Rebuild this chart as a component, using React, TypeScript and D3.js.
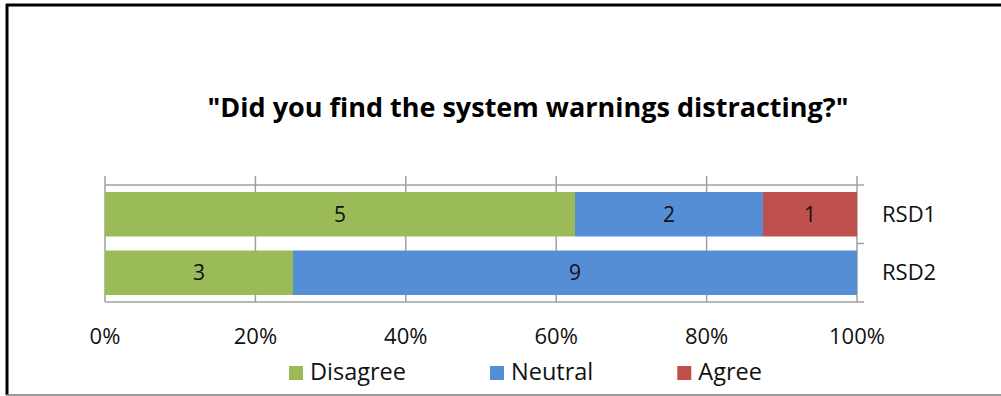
import React, { useEffect, useRef } from "react";
import * as d3 from "d3";

const categories = ["RSD1", "RSD2"];
const seriesNames = ["Disagree", "Neutral", "Agree"];
const disagree = [5, 3];
const neutral = [2, 9];
const agree = [1, 0];
const seriesColors = ["#9BBB59", "#558ED5", "#C0504D"];
const tickValues = [0, 0.2, 0.4, 0.6, 0.8, 1.0];
const title = '"Did you find the system warnings distracting?"';

const W = 1001;
const H = 396;
const FONT = "'Open Sans', sans-serif";

export default function App() {
  const ref = useRef<SVGSVGElement | null>(null);

  useEffect(() => {
    const svg = d3.select(ref.current);
    svg.selectAll("*").remove();

    // frame
    svg.append("rect").attr("x", 0).attr("y", 0).attr("width", W).attr("height", H).attr("fill", "#fff");
    svg.append("line").attr("x1", 7).attr("x2", 7).attr("y1", 4).attr("y2", 395).attr("stroke", "#000").attr("stroke-width", 3);
    svg.append("line").attr("x1", 6).attr("x2", W).attr("y1", 5).attr("y2", 5).attr("stroke", "#000").attr("stroke-width", 3);
    svg.append("line").attr("x1", 6).attr("x2", W).attr("y1", 395).attr("y2", 395).attr("stroke", "#777").attr("stroke-width", 1.5);

    // title
    svg.append("text")
      .attr("x", 528).attr("y", 117)
      .attr("text-anchor", "middle")
      .attr("font-family", FONT).attr("font-weight", "bold").attr("font-size", 27)
      .attr("fill", "#000")
      .text(title);

    const x = d3.scaleLinear().domain([0, 1]).range([105, 857]);
    const y = d3.scaleBand().domain(categories).range([185, 302]).paddingInner(0.24).paddingOuter(0.12);
    const yOuter = d3.scaleBand().domain(categories).range([185, 302]);

    const rows = categories.map((c, i) => ({ cat: c, Disagree: disagree[i], Neutral: neutral[i], Agree: agree[i] }));
    const stack = d3.stack<any>().keys(seriesNames).offset(d3.stackOffsetExpand);
    const stacked = stack(rows);

    const grid = "#A0A0A0";
    // vertical gridlines
    tickValues.forEach((t) => {
      svg.append("line")
        .attr("x1", x(t)).attr("x2", x(t))
        .attr("y1", 176).attr("y2", 302)
        .attr("stroke", grid).attr("stroke-width", 1.5);
    });
    // horizontal lines top/bottom
    [185, 302].forEach((yy) => {
      svg.append("line").attr("x1", x(0)).attr("x2", x(1)).attr("y1", yy).attr("y2", yy).attr("stroke", grid).attr("stroke-width", 1.5);
    });
    // category axis ticks on right
    const bounds = [yOuter(categories[0])!, yOuter(categories[1])!, yOuter(categories[1])! + yOuter.bandwidth()];
    bounds.forEach((yy) => {
      svg.append("line").attr("x1", x(1)).attr("x2", x(1) + 7).attr("y1", yy).attr("y2", yy).attr("stroke", grid).attr("stroke-width", 1.5);
    });

    // bars
    stacked.forEach((s, si) => {
      s.forEach((d: any, i) => {
        const v = [disagree, neutral, agree][si][i];
        if (v === 0) return;
        const x0 = x(d[0]);
        const x1 = x(d[1]);
        const yy = y(categories[i])!;
        svg.append("rect")
          .attr("x", x0).attr("y", yy)
          .attr("width", x1 - x0).attr("height", y.bandwidth())
          .attr("fill", seriesColors[si]);
        svg.append("text")
          .attr("x", (x0 + x1) / 2).attr("y", yy + y.bandwidth() / 2)
          .attr("dy", "0.35em")
          .attr("text-anchor", "middle")
          .attr("font-family", FONT).attr("font-size", 21)
          .attr("fill", "#111")
          .text(String(v));
      });
    });

    // category labels
    categories.forEach((c) => {
      svg.append("text")
        .attr("x", 882).attr("y", yOuter(c)! + yOuter.bandwidth() / 2)
        .attr("dy", "0.35em")
        .attr("font-family", FONT).attr("font-size", 22)
        .attr("fill", "#111")
        .text(c);
    });

    // value axis labels
    const fmt = d3.format(".0%");
    tickValues.forEach((t) => {
      svg.append("text")
        .attr("x", x(t)).attr("y", 344)
        .attr("text-anchor", "middle")
        .attr("font-family", FONT).attr("font-size", 22)
        .attr("fill", "#111")
        .text(fmt(t));
    });

    // legend
    let lx = 289;
    seriesNames.forEach((n, i) => {
      svg.append("rect").attr("x", lx).attr("y", 366).attr("width", 14).attr("height", 14).attr("fill", seriesColors[i]);
      const t = svg.append("text")
        .attr("x", lx + 21).attr("y", 380)
        .attr("font-family", FONT).attr("font-size", 23.5)
        .attr("fill", "#111")
        .text(n);
      const w = (t.node() as SVGTextElement).getComputedTextLength();
      lx += 21 + w + 84;
    });
  }, []);

  return (
    <svg
      ref={ref}
      width={W}
      height={H}
      style={{ position: "absolute", left: 0, top: 0, display: "block" }}
    />
  );
}
